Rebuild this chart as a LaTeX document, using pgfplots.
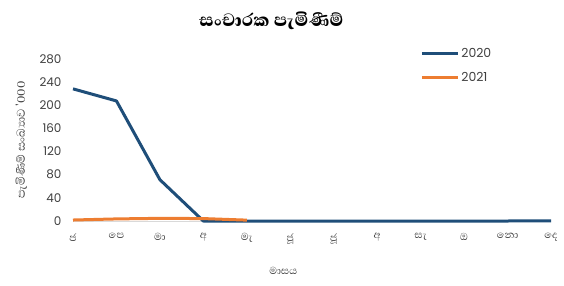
\documentclass[border=0pt]{standalone}
\usepackage{fontspec}
\setmainfont{Poppins}
\newfontfamily\sinfont[Script=Sinhala]{Abhaya Libre}
\newfontfamily\sinbold[Script=Sinhala]{Abhaya Libre ExtraBold}
\usepackage{pgfplots}
\pgfplotsset{compat=1.18}
\definecolor{cblue}{HTML}{1F4E79}
\definecolor{corange}{HTML}{ED7D31}
\definecolor{tgray}{HTML}{404040}
\begin{document}
\begin{tikzpicture}[x=1bp,y=1bp]
\path[use as bounding box] (0,0) rectangle (564,285);
\begin{axis}[
  at={(73bp,64bp)}, anchor=south west,
  scale only axis, width=478bp, height=162bp,
  xmin=0, xmax=11, ymin=0, ymax=280,
  axis x line*=bottom,
  axis y line*=left,
  x axis line style={draw=black!15, line width=1bp, -},
  y axis line style={draw=none, -},
  xtick={0,...,11},
  xticklabels={ජ,පෙ,මා,අ,මැ,ජූ,ජූ,අ,සැ,ඔ,නො,දෙ},
  xticklabel style={font=\sinfont\fontsize{13}{14}\selectfont, text=tgray, yshift=-9bp},
  ytick={0,40,...,280},
  yticklabel style={font=\fontsize{12}{13}\selectfont, text=tgray, xshift=-8bp},
  major tick length=0pt,
  clip=false,
  /pgf/number format/assume math mode=true,
  title={\sinbold\fontsize{23}{25}\selectfont සංචාරක පැමිණීම්},
  title style={at={(axis description cs:0.415,1.2)}, anchor=center},
  xlabel={\sinfont\fontsize{13}{14}\selectfont මාසය},
  xlabel style={at={(axis description cs:0.44,-0.31)}, anchor=center, text=tgray},
  ylabel={\sinfont\fontsize{14.5}{16}\selectfont පැමිණීම් සංඛ්‍යාව '000},
  ylabel style={at={(axis description cs:-0.108,0.5)}, anchor=center, text=tgray},
  legend style={at={(axis description cs:0.72,1.09)}, anchor=north west, draw=none, fill=none,
    font=\fontsize{12.5}{14}\selectfont, row sep=9bp, text=tgray},
  legend cell align=left,
  legend image code/.code={\draw[#1, line width=3bp] (0bp,0bp) -- (36bp,0bp);},
]
\addplot[cblue, line width=3bp, line join=round] coordinates {
 (0,228.4) (1,207.5) (2,71.4) (3,0) (4,0) (5,0) (6,0) (7,0) (8,0) (9,0) (10,0) (11,0.4)};
\addlegendentry{2020}
\addplot[corange, line width=3bp, line join=round] coordinates {
 (0,1.7) (1,3.6) (2,4.6) (3,4.2) (4,1.5)};
\addlegendentry{2021}
\end{axis}
\end{tikzpicture}
\end{document}
